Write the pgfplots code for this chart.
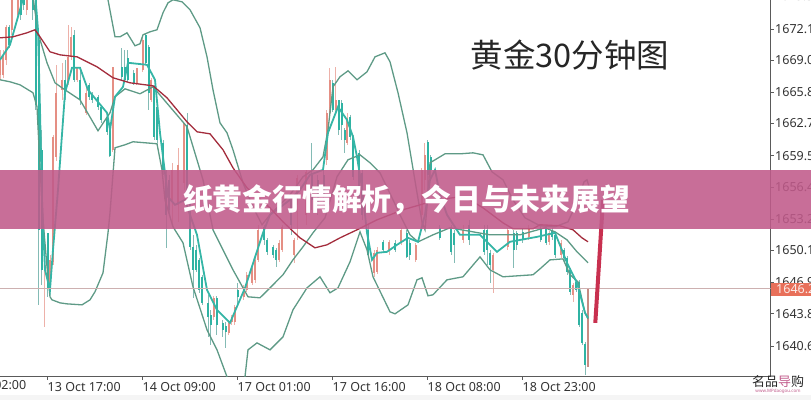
\documentclass[border=0pt]{standalone}
\usepackage{pgfplots}
\usepackage{pgfplotstable}
\usepackage{fontspec}
\pgfplotsset{compat=1.18}
\setmainfont{Noto Sans}
\newfontfamily\cjk{Noto Sans CJK SC}
\definecolor{upc}{HTML}{E58F84}
\definecolor{dnc}{HTML}{2FB3A3}
\definecolor{bandc}{HTML}{5E9A86}
\definecolor{fastc}{HTML}{35B5A6}
\definecolor{mac}{HTML}{A32C3C}
\definecolor{axc}{HTML}{5A5A5A}
\definecolor{stripc}{HTML}{C05A8A}
\definecolor{arrowc}{HTML}{C8304F}
\definecolor{tagc}{HTML}{E8705A}
\definecolor{hlinec}{HTML}{CDB0B0}
\pgfplotstableread{
i o h l c
0 1667.5 1670.0 1667.0 1669.0
1 1667.5 1670.0 1667.2 1669.5
2 1669.0 1672.5 1668.5 1672.3
4 1672.0 1675.5 1671.5 1675.0
6 1673.5 1676.0 1673.0 1675.5
9 1674.0 1675.5 1673.5 1675.3
15 1648.2 1648.7 1642.5 1648.6
17 1646.47 1649.65 1646.17 1649.16
18 1648.96 1661.58 1648.66 1661.38
19 1659.4 1668.5 1659.0 1665.76
21 1666.05 1668.74 1665.06 1667.05
23 1666.75 1672.52 1666.55 1669.33
24 1669.33 1672.32 1669.04 1671.32
26 1667.05 1668.24 1666.85 1668.24
29 1663.77 1666.55 1663.57 1665.76
38 1660.09 1668.34 1659.89 1668.34
46 1666.75 1668.24 1666.55 1668.24
48 1668.04 1671.32 1667.84 1671.02
51 1665.06 1667.25 1664.86 1667.05
58 1655.12 1658.8 1652.64 1658.1
60 1654.62 1660.29 1652.93 1658.6
62 1656.81 1662.77 1656.11 1662.77
72 1643.5 1645.58 1643.19 1645.38
77 1641.9 1643.19 1641.7 1642.99
78 1642.99 1643.69 1642.7 1643.49
79 1642.99 1644.68 1642.7 1644.48
82 1645.48 1646.67 1645.18 1646.47
83 1646.17 1647.96 1645.98 1647.67
85 1646.87 1648.56 1646.67 1648.36
86 1647.17 1649.35 1646.87 1649.16
87 1649.16 1652.64 1648.96 1652.14
94 1649.16 1651.14 1648.96 1650.85
95 1650.15 1652.64 1649.95 1652.44
99 1649.65 1651.34 1648.86 1651.14
100 1654.62 1657.61 1651.14 1657.31
103 1653.63 1658.1 1652.64 1657.9
110 1659.1 1664.07 1658.6 1663.77
111 1663.77 1668.24 1663.57 1667.05
113 1664.07 1668.34 1663.57 1665.06
117 1660.79 1663.77 1660.59 1663.27
126 1647.86 1650.15 1647.47 1649.85
127 1647.96 1650.45 1647.76 1650.15
131 1650.15 1651.14 1649.65 1650.94
135 1650.85 1652.34 1650.65 1652.14
140 1649.16 1650.85 1648.96 1650.65
142 1653.63 1658.3 1652.64 1658.1
143 1657.11 1660.79 1656.11 1659.6
156 1651.14 1652.64 1650.85 1652.14
166 1648.16 1649.85 1645.88 1649.65
171 1650.45 1652.34 1650.15 1652.14
178 1651.44 1652.64 1651.14 1652.34
185 1650.94 1652.04 1650.65 1651.84
189 1649.65 1651.14 1649.35 1650.85
193 1645.68 1646.87 1644.98 1646.67
}\upcandles
\pgfplotstableread{
i o h l c
3 1672.3 1672.5 1670.2 1670.53
7 1675.3 1675.5 1673.0 1673.5
8 1675.3 1675.5 1674.0 1674.5
11 1675.3 1675.5 1673.0 1674.0
12 1675.3 1675.5 1664.07 1664.56
13 1671.02 1672.02 1644.68 1652.14
14 1660.09 1662.08 1646.67 1648.16
16 1651.84 1651.84 1645.48 1646.37
22 1667.05 1669.04 1665.06 1665.76
25 1671.52 1672.02 1666.85 1667.05
27 1667.05 1668.04 1664.56 1665.06
30 1666.55 1666.75 1665.06 1665.36
31 1665.57 1665.86 1664.76 1665.06
33 1665.36 1665.57 1664.07 1664.36
34 1664.36 1664.56 1662.77 1663.07
36 1663.37 1663.57 1661.58 1661.88
37 1662.28 1662.58 1659.39 1659.49
41 1668.34 1670.23 1667.05 1667.35
42 1668.34 1670.03 1666.85 1667.05
43 1669.23 1670.03 1666.85 1667.05
45 1667.74 1668.04 1666.55 1666.75
49 1671.52 1671.72 1668.54 1668.74
50 1670.33 1670.53 1664.07 1665.76
52 1666.35 1666.55 1661.08 1661.38
53 1664.36 1664.56 1660.79 1661.08
55 1660.79 1661.08 1657.61 1658.1
56 1657.61 1658.1 1650.35 1653.63
57 1657.11 1657.61 1653.63 1654.12
63 1662.58 1663.77 1655.12 1655.82
64 1656.11 1656.61 1650.15 1650.45
65 1650.45 1651.64 1645.38 1648.16
66 1650.15 1650.65 1647.96 1648.16
67 1649.16 1649.35 1645.88 1646.17
68 1647.47 1647.67 1644.68 1644.88
70 1644.88 1645.68 1641.5 1643.49
71 1643.69 1644.19 1640.7 1642.7
73 1645.38 1645.58 1641.7 1642.7
75 1642.89 1643.19 1641.5 1642.2
76 1642.59 1642.99 1640.4 1642.0
80 1646.17 1646.87 1644.48 1645.48
89 1652.44 1652.64 1650.65 1651.14
90 1651.14 1651.34 1649.65 1649.95
92 1650.45 1650.65 1649.35 1649.65
93 1650.15 1650.35 1648.46 1649.16
98 1655.12 1655.6 1651.64 1652.64
105 1657.61 1660.79 1654.12 1655.12
107 1657.11 1657.61 1653.63 1654.62
109 1657.61 1658.1 1654.62 1655.62
112 1666.75 1667.05 1663.87 1664.07
114 1665.06 1665.06 1661.58 1662.08
115 1664.76 1665.06 1661.08 1662.58
116 1662.08 1662.28 1659.79 1661.08
118 1663.37 1663.57 1661.08 1661.38
119 1661.38 1661.58 1657.11 1657.41
121 1659.79 1660.09 1654.62 1655.12
122 1657.8 1658.1 1653.13 1653.63
124 1652.14 1652.64 1649.35 1649.65
129 1650.94 1651.14 1649.95 1650.15
133 1650.85 1651.14 1649.95 1650.15
137 1651.84 1652.14 1649.35 1649.45
138 1650.85 1651.14 1649.16 1649.65
144 1660.89 1661.08 1655.6 1657.61
145 1659.39 1659.6 1657.11 1658.1
148 1652.34 1652.64 1651.14 1651.34
152 1652.34 1652.64 1649.65 1649.95
153 1651.84 1652.14 1648.86 1650.65
158 1652.64 1653.13 1650.65 1651.14
163 1652.14 1652.64 1649.65 1649.95
164 1652.14 1652.64 1648.66 1650.15
165 1649.85 1650.15 1646.87 1648.66
173 1651.84 1652.14 1648.36 1650.15
174 1651.84 1652.04 1650.15 1650.65
176 1651.94 1652.34 1650.85 1651.14
182 1652.34 1652.64 1650.94 1651.14
184 1652.44 1652.64 1650.65 1650.85
186 1652.14 1652.34 1651.14 1651.44
187 1651.64 1651.84 1649.35 1649.65
190 1650.15 1650.35 1649.0 1649.36
191 1649.35 1649.55 1647.67 1647.96
192 1648.16 1648.36 1645.68 1645.98
194 1646.97 1647.17 1645.98 1646.17
195 1646.97 1647.17 1642.5 1642.7
196 1643.89 1644.19 1640.7 1640.9
197 1640.79 1640.99 1637.7 1638.7
}\dncandles
\pgfplotstableread{
i o h l c
198 1639.4 1646.3 1638.52 1646.3
}\lastcandle
\pgfplotstableread{
x y
95 1681.04
103 1677
108 1675
115 1671.32
120 1671.32
127 1671.72
135 1670.43
140 1670.63
143 1671.52
150 1671.82
157 1672.02
163 1673.71
168 1674.7
173 1675
182 1674.8
190 1674.01
200 1672.22
207 1669.33
213 1666.05
220 1662.77
227 1661.78
233 1660.09
243 1656.81
252 1654.62
262 1652.64
270 1653.63
290 1655.62
303 1657.41
313 1658.1
323 1659.39
328 1662.08
333 1666.35
340 1667.35
348 1667.94
357 1667.05
367 1667.84
375 1669.33
385 1669.73
390 1668.84
398 1665.76
407 1661.78
412 1658.8
417 1655.82
422 1652.93
425 1652.14
428 1655.62
430 1658.8
445 1659.69
460 1659.69
473 1659.79
483 1659.59
492 1657.9
503 1657.11
513 1655.12
525 1653.33
540 1652.54
555 1652.44
568 1652.93
578 1655.12
584 1656.91
587 1657.11
590 1656.11
}\upperband
\pgfplotstableread{
x y
32 1676
38 1671.72
47 1668.74
55 1666.75
62 1666.25
80 1665.06
98 1661.98
110 1663.77
115 1665.36
125 1666.15
140 1665.66
153 1666.35
187 1662.38
203 1657.11
213 1652.14
233 1648.16
248 1645.48
260 1645.38
270 1646.37
283 1647.67
293 1649.16
303 1650.45
313 1651.84
325 1653.33
337 1657.41
348 1659.1
360 1659.59
370 1658.8
380 1657.8
393 1655.12
400 1653.63
410 1651.64
418 1650.94
433 1651.64
450 1652.34
490 1651.64
520 1651.64
545 1652.34
555 1651.94
567 1651.14
577 1649.95
588 1648.86
}\midband
\pgfplotstableread{
x y
0 1667.05
10 1666.85
20 1666.55
33 1665.76
37 1664.36
40 1658.4
43 1653.13
47 1648.46
50 1645.48
52 1645.18
60 1644.88
67 1644.78
82 1644.68
90 1645.18
95 1645.98
103 1647.86
108 1651.84
110 1653.83
112 1656.41
115 1660.29
125 1660.59
133 1660.89
145 1660.79
157 1660.69
162 1658.1
165 1655.12
173 1652.44
183 1650.85
193 1646.47
207 1642.2
217 1640.21
227 1637.53
232 1635.74
240 1635.74
245 1637.53
248 1640.21
257 1640.9
270 1640.21
283 1641.5
293 1644.19
307 1646.37
320 1647.47
330 1645.88
338 1646.37
350 1648.96
360 1651.94
367 1650.15
373 1647.47
390 1643.99
395 1643.79
408 1644.68
417 1647.17
422 1647.37
428 1645.58
433 1645.68
447 1647.17
463 1647.47
480 1649.45
490 1648.16
503 1647.47
533 1647.67
540 1648.26
550 1649.15
563 1649.25
570 1647.67
578 1646.97
585 1643.89
588 1643.29
}\lowerband
\pgfplotstableread{
x y
0 1669.04
10 1670.53
20 1674.01
25 1675.8
35 1675.8
38 1672.02
40 1664.07
42 1655.12
45 1648.16
50 1646.17
53 1650.15
58 1656.11
65 1665.76
72 1668.24
80 1668.24
88 1666.05
107 1663.77
110 1662.08
115 1665.36
123 1666.35
128 1668.74
147 1668.54
155 1667.05
160 1661.78
168 1655.42
175 1654.62
185 1655.12
190 1653.63
197 1651.64
207 1646.17
217 1644.19
230 1642.89
245 1646.37
263 1651.84
270 1653.63
290 1655.12
300 1656.11
310 1657.61
323 1658.1
328 1661.78
338 1664.36
347 1663.07
353 1661.38
357 1659.39
362 1656.31
367 1651.84
372 1649.16
377 1649.85
387 1649.95
397 1650.65
408 1651.34
418 1650.95
425 1653.63
430 1657.11
435 1658.1
440 1655.62
447 1653.63
460 1651.64
480 1651.64
497 1649.95
510 1650.95
537 1651.44
555 1651.84
567 1648.86
577 1646.87
585 1643.89
588 1643.39
}\fastline
\pgfplotstableread{
x y
0 1671.22
13 1671.32
27 1671.72
35 1672.02
40 1671.32
50 1669.83
60 1669.53
77 1669.33
97 1668.34
113 1667.25
130 1666.75
153 1666.45
167 1665.26
187 1662.87
197 1661.88
210 1661.68
223 1660.09
233 1658.3
247 1656.31
270 1654.32
283 1652.93
300 1651.34
315 1650.35
327 1650.65
340 1651.34
357 1652.14
377 1653.13
403 1654.13
420 1654.62
437 1655.12
460 1655.42
470 1655.12
483 1654.32
503 1652.83
513 1652.24
533 1652.24
540 1652.64
560 1652.54
573 1652.14
582 1651.34
588 1650.95
}\maline
\begin{document}
\begin{tikzpicture}[x=1pt,y=1pt]
\path[use as bounding box] (0,0) rectangle (811,400);
\fill[black!4] (0,0) rectangle (811,5);
\begin{axis}[
  at={(0pt,23.5pt)}, anchor=south west,
  scale only axis, width=770.7pt, height=376.5pt,
  xmin=0, xmax=770.7, ymin=1637.56, ymax=1674.98,
  clip mode=individual,
  axis x line*=bottom, axis y line*=right,
  axis line style={color=axc, line width=1.1pt, -},
  tick style={color=axc, line width=.7pt},
  tick align=outside, major tick length=3pt,
  xtick={47.7,142.7,237.7,332.7,427.7,522.7},
  xticklabels={13 Oct 17:00,14 Oct 09:00,17 Oct 01:00,17 Oct 16:00,18 Oct 08:00,18 Oct 23:00},
  xticklabel style={font=\fontsize{12.5}{14}\selectfont, text=black!80, anchor=north west, xshift=-3.5pt, yshift=1pt},
  ytick={1640.6,1643.8,1646.9,1650.1,1653.2,1656.4,1659.5,1662.7,1665.8,1669.0,1672.1},
  yticklabels={1640.6,1643.8,1646.9,1650.1,1653.2,1656.4,1659.5,1662.7,1665.8,1669.0,1672.1},
  yticklabel style={font=\fontsize{12.5}{14}\selectfont, text=black!80, anchor=west, xshift=-2pt},
  every axis plot/.append style={no marks},
]
\addplot[draw=none, forget plot, error bars/.cd, y dir=plus, y explicit, error mark=none, error bar style={color=upc!70!white, line width=.8pt}]
  table[x expr=\thisrow{i}*2.97, y=l, y error plus expr=\thisrow{h}-\thisrow{l}] {\upcandles};
\addplot[draw=none, forget plot, error bars/.cd, y dir=plus, y explicit, error mark=none, error bar style={color=upc, line width=2pt}]
  table[x expr=\thisrow{i}*2.97, y=o, y error plus expr=\thisrow{c}-\thisrow{o}] {\upcandles};
\addplot[draw=none, forget plot, error bars/.cd, y dir=plus, y explicit, error mark=none, error bar style={color=dnc!60!gray!70!white, line width=.8pt}]
  table[x expr=\thisrow{i}*2.97, y=l, y error plus expr=\thisrow{h}-\thisrow{l}] {\dncandles};
\addplot[draw=none, forget plot, error bars/.cd, y dir=plus, y explicit, error mark=none, error bar style={color=dnc, line width=2pt}]
  table[x expr=\thisrow{i}*2.97, y=c, y error plus expr=\thisrow{o}-\thisrow{c}] {\dncandles};
\addplot[draw=none, forget plot, error bars/.cd, y dir=plus, y explicit, error mark=none, error bar style={color=upc!70!gray, line width=1.3pt}]
  table[x expr=\thisrow{i}*2.97, y=l, y error plus expr=\thisrow{h}-\thisrow{l}] {\lastcandle};
\addplot[color=bandc, line width=1.3pt] table[x=x,y=y] {\upperband};
\addplot[color=bandc, line width=1.3pt] table[x=x,y=y] {\midband};
\addplot[color=bandc, line width=1.3pt] table[x=x,y=y] {\lowerband};
\addplot[color=fastc, line width=1.8pt] table[x=x,y=y] {\fastline};
\addplot[color=mac, line width=1.3pt] table[x=x,y=y] {\maline};
\addplot[color=hlinec, line width=.9pt] coordinates {(0,1646.3)(770.7,1646.3)};
\addplot[color=arrowc, line width=4pt] coordinates {(595.3,1642.89)(603,1655.12)};
\end{axis}
\node[anchor=north west, inner sep=0pt, font=\fontsize{12.5}{14}\selectfont, text=black!80] at (-47,20) {13 Oct 02:00};
\node[anchor=west, inner sep=0pt, font=\fontsize{12.5}{14}\selectfont, text=black!80] at (774,403.5) {1675.3};
\fill[color=tagc] (771.2,104) rectangle (811,117);
\node[anchor=west, inner sep=0pt, font=\fontsize{12.5}{14}\selectfont, text=white!85!tagc] at (776,110.5) {1646.2};
\node[anchor=center, inner sep=0pt, font=\cjk\fontsize{32.5}{35}\selectfont, text=black!85] at (570,345) {黄金30分钟图};
\node[anchor=center, inner sep=0pt, font=\cjk\fontsize{13}{15}\selectfont, text=black!85] at (778,18.5) {名品{\color{stripc}导}购};
\node[anchor=center, inner sep=0pt, font=\fontsize{4.5}{5}\selectfont, text=stripc] at (778,8.5) {www.MPdaogou.com};
\fill[stripc, opacity=.88] (0,171.5) rectangle (811,230);
\node[anchor=center, inner sep=0pt, font=\cjk\fontsize{29.8}{32}\selectfont\bfseries, text=white] at (406.5,200) {纸黄金行情解析，今日与未来展望};
\end{tikzpicture}
\end{document}
